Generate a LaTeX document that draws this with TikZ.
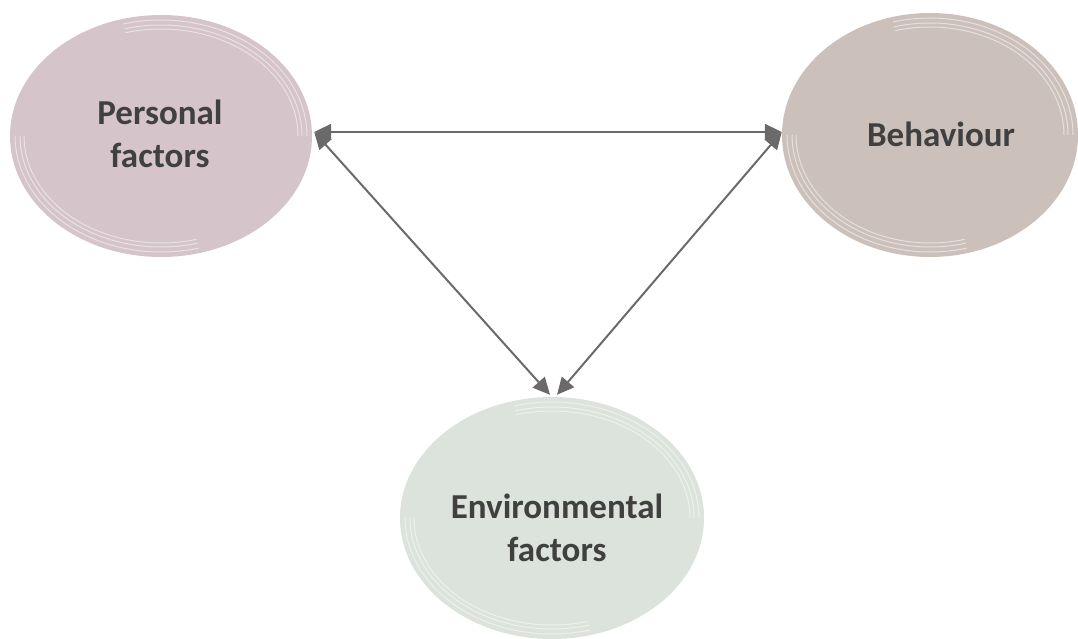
\documentclass[tikz,border=0pt]{standalone}
\usepackage{fontspec}
\setmainfont{Carlito}
\usetikzlibrary{shapes.geometric,arrows.meta}
\definecolor{pfill}{HTML}{D5C4CA}
\definecolor{bfill}{HTML}{CCC1BA}
\definecolor{efill}{HTML}{DCE2DC}
\definecolor{txt}{HTML}{404040}
\definecolor{arr}{HTML}{6A6A6A}
\newcommand\mybevel[3]{%
  \foreach \d in {5,10,14}{
    \draw[bevelline,shift={(#1.center)}] (-105:{#2-\d} and {#3-\d}) arc[start angle=-105,end angle=0,x radius={#2-\d},y radius={#3-\d}];
    \draw[bevelline,shift={(#1.center)}] (75:{#2-\d} and {#3-\d}) arc[start angle=75,end angle=180,x radius={#2-\d},y radius={#3-\d}];
  }}
\begin{document}
\begin{tikzpicture}[x=1pt,y=-1pt,
  blob/.style={ellipse,inner sep=0pt,draw=none},
  lbl/.style={text=txt,font=\bfseries\fontsize{35}{43}\selectfont,align=center,inner sep=0pt},
  bevelline/.style={white,opacity=0.5,line width=1pt},
  conn/.style={arr,line width=2pt,{Triangle[length=17pt,width=16pt]}-{Triangle[length=17pt,width=16pt]}}]
\useasboundingbox (0,0) rectangle (1078,639);
\node[blob,fill=pfill,minimum width=302,minimum height=242] (P) at (161,136) {};
\node[blob,fill=bfill,minimum width=296,minimum height=244] (B) at (930,135) {};
\node[blob,fill=efill,minimum width=304,minimum height=242] (E) at (552,518) {};
\mybevel{P}{151}{121}
\mybevel{B}{148}{122}
\mybevel{E}{152}{121}
\node[lbl] (pt) at (160,134) {Personal\\factors};
\node[lbl] (bt) at (941,134) {Behaviour};
\node[lbl] (et) at (557,528) {Environmental\\factors};
\coordinate (pa) at ([shift={(2,-4)}]P.east);
\coordinate (ba) at ([shift={(0,-3)}]B.west);
\coordinate (ea1) at ([shift={(-2,-2)}]E.north);
\coordinate (ea2) at ([shift={(5,-2)}]E.north);
\draw[conn] (pa) -- (ba);
\draw[conn] (pa) -- (ea1);
\draw[conn] (ba) -- (ea2);
\end{tikzpicture}
\end{document}
